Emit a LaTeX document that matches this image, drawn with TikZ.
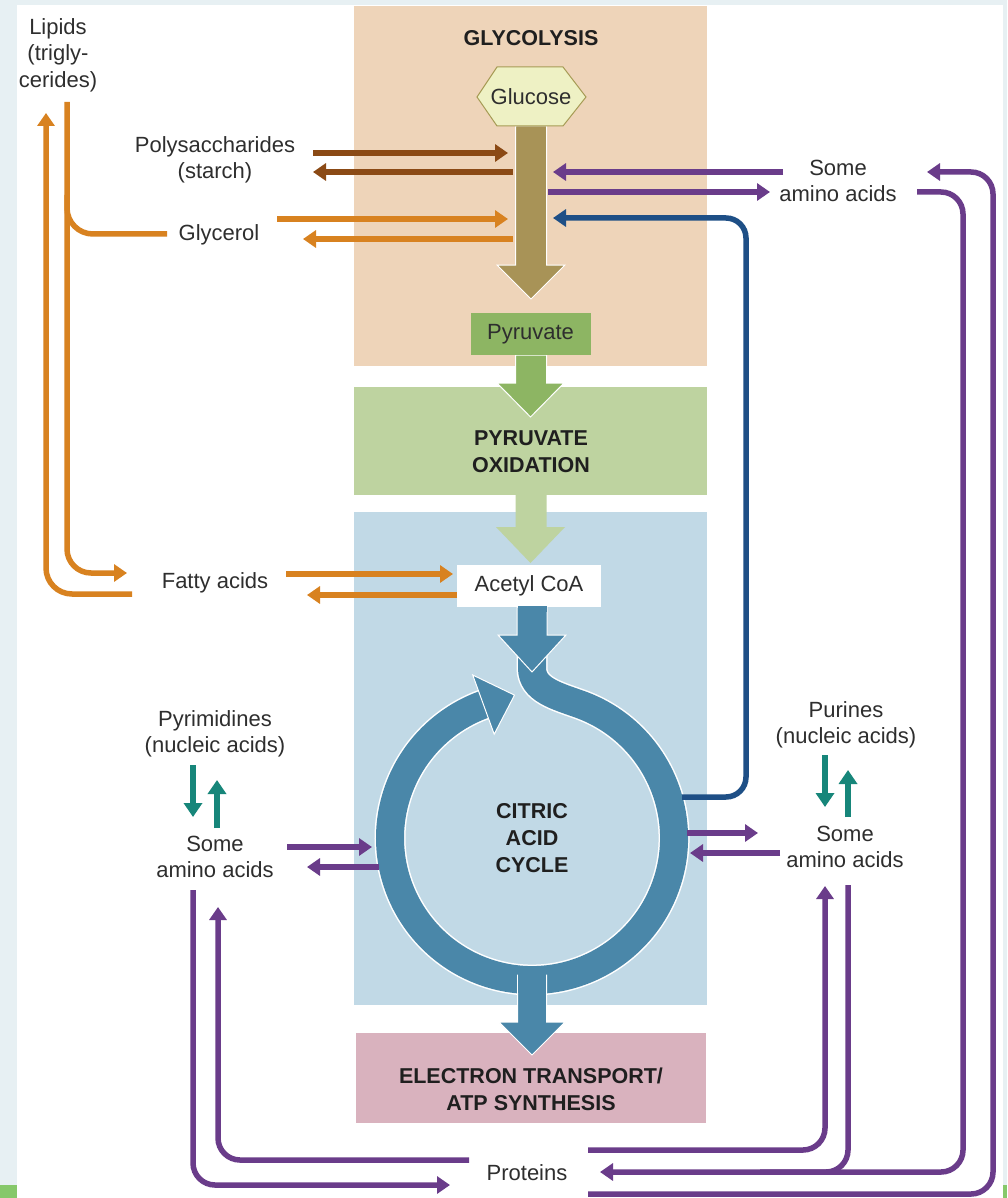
\documentclass[tikz,border=0pt]{standalone}
\usepackage{fontspec}
\setmainfont{Liberation Sans}
\usetikzlibrary{arrows.meta,calc}

\definecolor{glyco}{HTML}{EED4B9}
\definecolor{pyox}{HTML}{BED3A0}
\definecolor{cacbox}{HTML}{C1D9E6}
\definecolor{etcbox}{HTML}{D9B2BE}
\definecolor{khaki}{HTML}{A89357}
\definecolor{pyrgreen}{HTML}{8DB563}
\definecolor{ringblue}{HTML}{4A87A9}
\definecolor{navyline}{HTML}{1E4F86}
\definecolor{purp}{HTML}{6A3C8A}
\definecolor{orng}{HTML}{D88220}
\definecolor{brwn}{HTML}{8B4A15}
\definecolor{tealarr}{HTML}{17867A}
\definecolor{txt}{HTML}{2E2E2E}
\definecolor{framebg}{HTML}{E7F0F3}
\definecolor{framegreen}{HTML}{86C86A}
\definecolor{glucfill}{HTML}{EEF1C4}
\definecolor{glucline}{HTML}{A69B55}

\begin{document}
\begin{tikzpicture}[x=1pt,y=1pt,
  lbl/.style={font=\fontsize{22}{26.5}\selectfont, text=txt, align=center, inner sep=0pt},
  ttl/.style={font=\fontsize{21.5}{27}\selectfont\bfseries, text=black!88, align=center, inner sep=0pt},
  conn/.style={line width=5.5pt},
  tip/.style={-{Triangle[length=13pt,width=17pt]}},
  ttip/.style={line width=6pt,-{Triangle[length=14pt,width=18pt]}},
  bigarrow/.style={draw=white, line width=1pt},
  rnd/.style={rounded corners=22pt}]
\useasboundingbox (0,0) rectangle (1007,-1198);

% page frame
\fill[framebg] (0,0) rectangle (1007,-1198);
\fill[white] (17,-5) rectangle (1003,-1198);
\fill[framegreen] (0,-1185) rectangle (17,-1198);
\fill[framegreen] (1003,-1185) rectangle (1007,-1198);

% stage boxes
\fill[glyco]  (354,-6)    rectangle (707,-366);
\fill[pyox]   (354,-387)  rectangle (707,-495);
\fill[cacbox] (354,-512)  rectangle (707,-1005);
\fill[etcbox] (356,-1033) rectangle (706,-1123);

% citric acid cycle ring with the acetyl CoA inflow
\def\ringpath{(532,-650) -- (532,-668) .. controls (532,-690) and (557,-696) .. (580.6,-704.6)
   arc[start angle=70,end angle=-250,radius=142pt]}
\draw[white,line width=31pt] \ringpath;
\draw[ringblue,line width=28pt] \ringpath;
\fill[ringblue,bigarrow] (472.7,-675) -- (514.5,-695.1) -- (494.2,-734.2) -- cycle;

% output of the cycle to electron transport
\fill[ringblue,bigarrow] (517.5,-975) -- (546.5,-975) -- (546.5,-1022) -- (565,-1022)
   -- (532,-1055) -- (499,-1022) -- (517.5,-1022) -- cycle;
\fill[ringblue] (518,-970) rectangle (546,-993);

% glycolysis main flow
\fill[khaki,bigarrow] (515.5,-126) -- (546.5,-126) -- (546.5,-265) -- (565,-265)
   -- (531,-299) -- (497,-265) -- (515.5,-265) -- cycle;
\draw[glucline,fill=glucfill,line width=1pt] (477,-97) -- (497,-67) -- (563,-67)
   -- (586,-97) -- (563,-126) -- (497,-126) -- cycle;

% pyruvate to oxidation
\fill[pyrgreen,bigarrow] (515.5,-355) -- (546.5,-355) -- (546.5,-383) -- (564,-383)
   -- (530.5,-417) -- (497,-383) -- (515.5,-383) -- cycle;
\node[fill=pyrgreen,minimum width=120pt,minimum height=42pt,inner sep=0pt] (pyruvate) at (530.5,-334) {};
\node[lbl] at (pyruvate) {Pyruvate};

% oxidation to acetyl CoA
\fill[pyox] (515.5,-494) -- (546.5,-494) -- (546.5,-527) -- (565,-527)
   -- (530.5,-563) -- (496,-527) -- (515.5,-527) -- cycle;
\node[fill=white,minimum width=144pt,minimum height=42pt,inner sep=0pt] (acetyl) at (529,-586) {};
\node[lbl] at (acetyl) {Acetyl CoA};

% acetyl CoA into the cycle
\fill[ringblue,bigarrow] (517,-607) -- (547,-607) -- (547,-635) -- (566,-635)
   -- (532,-672) -- (498,-635) -- (517,-635) -- cycle;
\fill[ringblue] (517.5,-606) rectangle (546.5,-612);

% stage titles
\node[ttl] (glytitle) at (531,-38) {GLYCOLYSIS};
\node[lbl] (glucose) at (531,-97) {Glucose};
\node[ttl] (pyoxtitle) at (531,-452) {PYRUVATE\\OXIDATION};
\node[ttl] (cactitle) at (532,-838) {CITRIC\\ACID\\CYCLE};
\node[ttl] (etctitle) at (531,-1089) {ELECTRON TRANSPORT/\\ATP SYNTHESIS};

% side labels
\node[lbl] (lipids) at (58,-55) {Lipids\\(trigly-\\cerides)};
\node[lbl] (poly) at (215,-160) {Polysaccharides\\(starch)};
\node[lbl] (glycerol) at (219,-235) {Glycerol};
\node[lbl] (fatty) at (215,-583) {Fatty acids};
\node[lbl] (pyrim) at (215,-734) {Pyrimidines\\(nucleic acids)};
\node[lbl] (aaleft) at (215,-857) {Some\\amino acids};
\node[lbl] (aatop) at (838,-181) {Some\\amino acids};
\node[lbl] (purines) at (846,-725) {Purines\\(nucleic acids)};
\node[lbl] (aaright) at (845,-847) {Some\\amino acids};
\node[lbl] (proteins) at (527,-1173) {Proteins};

% connector end points
\coordinate (polyOut) at (313,-153);
\coordinate (polyIn) at (313,-172);
\coordinate (glyShaftA) at (508,-153);
\coordinate (glyShaftB) at (513,-172);
\coordinate (glyShaftC) at (508,-219);
\coordinate (glyShaftD) at (513,-239);
\coordinate (glyOut) at (277,-219);
\coordinate (glyIn) at (303,-239);
\coordinate (fatOut) at (286,-574);
\coordinate (fatIn) at (307,-595);
\coordinate (acA) at (453,-574);
\coordinate (acB) at (457,-595);

% polysaccharides and glycerol exchange with glycolysis
\draw[brwn,conn,tip] (polyOut) -- (glyShaftA);
\draw[brwn,conn,tip] (glyShaftB) -- (polyIn);
\draw[orng,conn,tip] (glyOut) -- (glyShaftC);
\draw[orng,conn,tip] (glyShaftD) -- (glyIn);

% fatty acids exchange with acetyl CoA
\draw[orng,conn,tip] (fatOut) -- (acA);
\draw[orng,conn,tip] (acB) -- (fatIn);

% lipids split into glycerol and fatty acids, and back
\coordinate (lipBottom) at (67,-102);
\coordinate (lipTop) at (46,-113);
\draw[orng,conn,tip,rounded corners=24pt] (lipBottom) -- (67,-573) -- (127,-573);
\draw[orng,conn,rounded corners=26pt] (167,-234) -- (67,-234) -- (67,-195);
\draw[orng,conn,tip,rounded corners=26pt] (132,-594) -- (46,-594) -- (lipTop);

% amino acids at glycolysis
\draw[purp,conn,tip] (783,-172) -- (553,-172);
\draw[purp,conn,tip] (548,-192) -- (770,-192);

% cycle intermediate back to glycolysis
\draw[navyline,conn,tip,rounded corners=20pt] (682,-797) -- (746,-797) -- (746,-218) -- (553,-218);

% amino acids exchange with the cycle
\draw[purp,conn,tip] (287,-847) -- (372,-847);
\draw[purp,conn,tip] (379,-867) -- (307,-867);
\draw[purp,conn,tip] (687,-833) -- (758,-833);
\draw[purp,conn,tip] (780,-853) -- (690,-853);

% nucleic acid interconversions
\draw[tealarr,ttip] (193,-765) -- (193,-817);
\draw[tealarr,ttip] (217,-828) -- (217,-780);
\draw[tealarr,ttip] (825,-755) -- (825,-807);
\draw[tealarr,ttip] (848,-817) -- (848,-770);

% proteins exchange with amino acids
\draw[purp,conn,tip,rnd] (193,-890) -- (193,-1185) -- (450,-1185);
\draw[purp,conn,tip,rnd] (469,-1160) -- (218,-1160) -- (218,-907);
\draw[purp,conn,tip,rnd] (588,-1150) -- (825,-1150) -- (825,-886);
\draw[purp,conn,rnd] (848,-885) -- (848,-1172) -- (760,-1172);
\draw[purp,conn,tip,rnd] (917,-192) -- (963,-192) -- (963,-1172) -- (600,-1172);
\draw[purp,conn,tip,rnd] (588,-1194) -- (993,-1194) -- (993,-172) -- (927,-172);
\end{tikzpicture}
\end{document}
